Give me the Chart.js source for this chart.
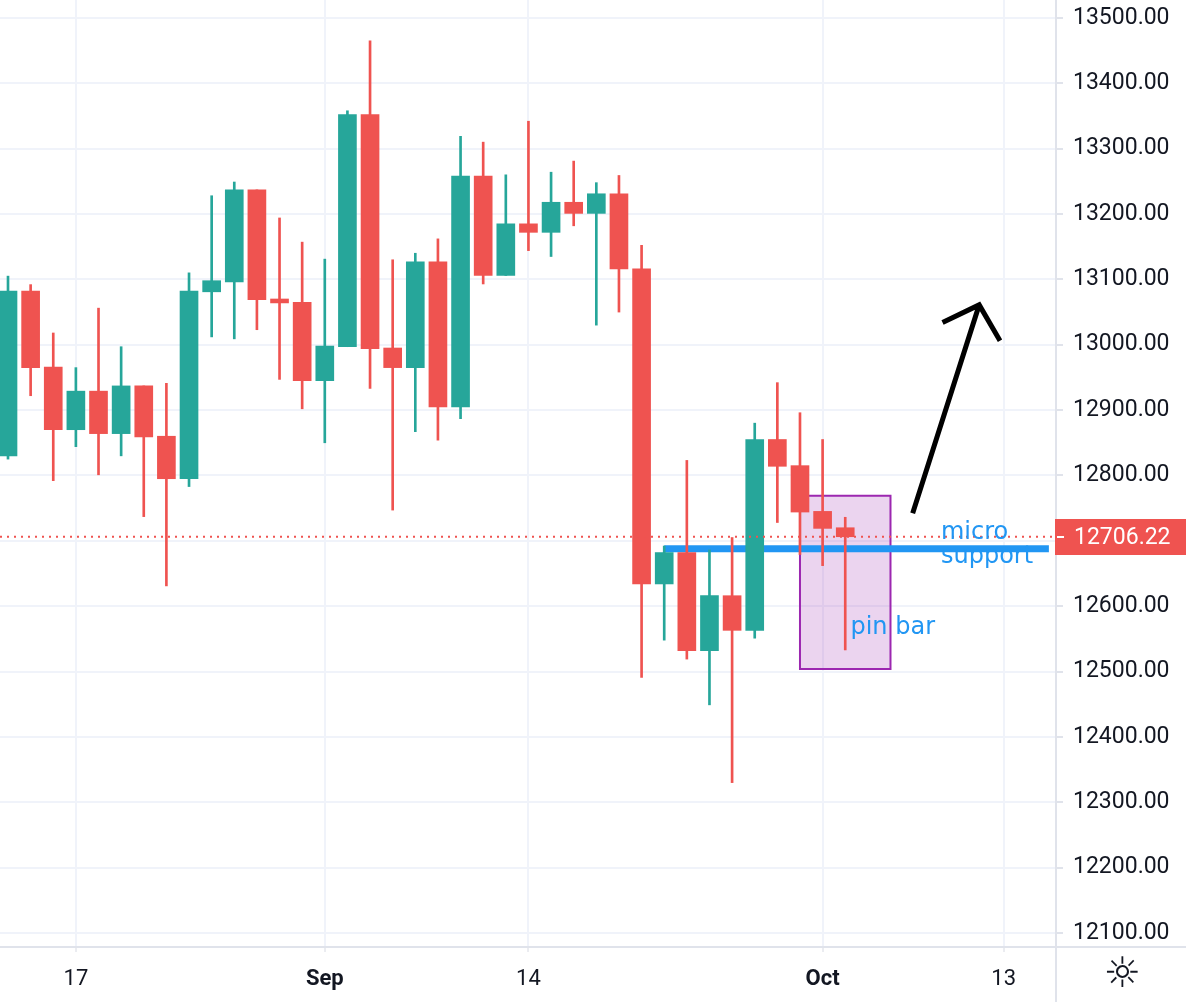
<!DOCTYPE html>
<html>
<head>
<meta charset="utf-8">
<script src="https://cdn.jsdelivr.net/npm/chart.js@4.4.0/dist/chart.umd.min.js"></script>
<style>
  html, body { margin: 0; padding: 0; background: #fff; }
  #wrap { width: 1186px; height: 1002px; position: relative; }
</style>
</head>
<body>
<div id="wrap"><canvas id="grafico"></canvas></div>
<script>
// daily candles (2020), trading days only
const dates = ["Aug 12", "Aug 13", "Aug 14", "Aug 17", "Aug 18", "Aug 19", "Aug 20", "Aug 21", "Aug 24", "Aug 25",
  "Aug 26", "Aug 27", "Aug 28", "Aug 31", "Sep 1", "Sep 2", "Sep 3", "Sep 4", "Sep 7", "Sep 8",
  "Sep 9", "Sep 10", "Sep 11", "Sep 14", "Sep 15", "Sep 16", "Sep 17", "Sep 18", "Sep 21", "Sep 22",
  "Sep 23", "Sep 24", "Sep 25", "Sep 28", "Sep 29", "Sep 30", "Oct 1", "Oct 2"];
const opens = [12830, 13082, 12966, 12870, 12929, 12864, 12937, 12860, 12795, 13081,
  13096, 13237, 13070, 13065, 12945, 12997, 13352, 12995, 12965, 13127,
  12905, 13258, 13106, 13185, 13172, 13218, 13201, 13231, 13116, 12634,
  12682, 12532, 12616, 12563, 12855, 12815, 12745, 12720];
const highs = [13105, 13092, 13018, 12965, 13056, 12997, 12937, 12941, 13110, 13228,
  13249, 13237, 13194, 13157, 13131, 13358, 13465, 13130, 13140, 13162,
  13319, 13310, 13260, 13342, 13264, 13281, 13248, 13259, 13152, 12692,
  12823, 12686, 12705, 12880, 12942, 12896, 12855, 12736];
const lows = [12825, 12922, 12792, 12844, 12801, 12830, 12737, 12631, 12783, 13012,
  13009, 13023, 12947, 12902, 12850, 12997, 12933, 12747, 12867, 12854,
  12887, 13093, 13106, 13144, 13135, 13182, 13030, 13050, 12491, 12548,
  12519, 12449, 12330, 12551, 12728, 12679, 12662, 12533];
const closes = [13082, 12965, 12870, 12929, 12864, 12937, 12859, 12795, 13082, 13098,
  13237, 13069, 13064, 12945, 12998, 13352, 12994, 12965, 13127, 12905,
  13258, 13106, 13185, 13172, 13218, 13201, 13231, 13116, 12634, 12682,
  12532, 12616, 12563, 12855, 12814, 12744, 12719, 12706.22];

const yTicks = [12100, 12200, 12300, 12400, 12500, 12600, 12700, 12800, 12900, 13000, 13100, 13200, 13300, 13400, 13500];
const xTickIdx = [3, 14, 23, 36, 44];
const xTickLabels = ["17", "Sep", "14", "Oct", "13"];

// drawings on the chart (index / price coordinates)
const lastPrice = closes[closes.length - 1];
const supportLevel = 12688;
const supportSpan = [29, 46];
const boxSpan = [35, 39];
const boxPrices = [12504, 12769];
const arrowShaft = [[39.98, 12742], [42.92, 13061]];
const arrowHead = [[41.3, 13034], [42.92, 13061], [43.84, 13006]];
const notes = [
  { text: "micro", x: 41.23, y: 12703 },
  { text: "support", x: 41.23, y: 12666 },
  { text: "pin bar", x: 37.23, y: 12557 }
];

const xMin = -0.3535, xMax = 46.27;
const UP = "#26a69a", DOWN = "#ef5350";
const candleColors = opens.map((o, i) => closes[i] >= o ? UP : DOWN);

const extras = {
  id: "extras",
  afterDraw(chart) {
    const { ctx, chartArea: area, scales } = chart;
    const x = scales.x, y = scales.y;
    ctx.save();
    // frame lines that run through the axis areas
    ctx.strokeStyle = "#e0e3eb";
    ctx.lineWidth = 2;
    ctx.beginPath();
    ctx.moveTo(0, area.bottom + 1);
    ctx.lineTo(chart.width, area.bottom + 1);
    ctx.moveTo(area.right + 1, 0);
    ctx.lineTo(area.right + 1, chart.height);
    ctx.stroke();

    // last price tag
    const py = Math.round(y.getPixelForValue(lastPrice));
    ctx.fillStyle = DOWN;
    ctx.fillRect(area.right, py - 18, chart.width - area.right, 36);
    ctx.strokeStyle = "#fff";
    ctx.beginPath();
    ctx.moveTo(area.right + 2, py);
    ctx.lineTo(area.right + 9, py);
    ctx.stroke();
    ctx.fillStyle = "#fff";
    ctx.font = "23px Roboto";
    ctx.textBaseline = "middle";
    ctx.textAlign = "left";
    ctx.fillText(lastPrice.toFixed(2), area.right + 19, py + 1);

    // text notes
    ctx.fillStyle = "#2196f3";
    ctx.font = "24px 'DejaVu Sans'";
    ctx.textBaseline = "alphabetic";
    notes.forEach(n => ctx.fillText(n.text, x.getPixelForValue(n.x), y.getPixelForValue(n.y)));

    // settings icon
    ctx.fillStyle = "#131722";
    ctx.font = "42px 'DejaVu Sans'";
    ctx.textAlign = "center";
    ctx.textBaseline = "middle";
    ctx.fillText("\u263C", 1122, 976);
    ctx.restore();
  }
};

const ctx = document.getElementById("grafico").getContext("2d");

new Chart(ctx, {
  type: "bar",
  data: {
    datasets: [
      {
        type: "line",
        order: 0,
        data: [
          { x: arrowShaft[0][0], y: arrowShaft[0][1] },
          { x: arrowShaft[1][0], y: arrowShaft[1][1] },
          { x: arrowShaft[1][0], y: null },
          ...arrowHead.map(p => ({ x: p[0], y: p[1] }))
        ],
        borderColor: "#000",
        borderWidth: 5,
        borderJoinStyle: "miter",
        pointRadius: 0,
        spanGaps: false,
        fill: false
      },
      {
        type: "line",
        order: 1,
        data: [{ x: xMin, y: lastPrice }, { x: xMax, y: lastPrice }],
        borderColor: DOWN,
        borderWidth: 2,
        borderDash: [2, 5],
        pointRadius: 0,
        fill: false
      },
      {
        order: 2,
        data: dates.map((d, i) => ({ x: i, y: [opens[i], closes[i]] })),
        backgroundColor: candleColors,
        barThickness: 18,
        grouped: false
      },
      {
        order: 3,
        data: dates.map((d, i) => ({ x: i, y: [lows[i], highs[i]] })),
        backgroundColor: candleColors,
        barThickness: 2,
        grouped: false
      },
      {
        type: "line",
        order: 4,
        data: [{ x: supportSpan[0], y: supportLevel }, { x: supportSpan[1], y: supportLevel }],
        borderColor: "#2196f3",
        borderWidth: 7,
        borderCapStyle: "butt",
        pointRadius: 0,
        fill: false
      },
      {
        type: "line",
        order: 5,
        data: [
          { x: boxSpan[0], y: boxPrices[1] }, { x: boxSpan[1], y: boxPrices[1] },
          { x: boxSpan[1], y: boxPrices[0] }, { x: boxSpan[0], y: boxPrices[0] },
          { x: boxSpan[0], y: boxPrices[1] }
        ],
        borderColor: "#9c27b0",
        borderWidth: 2,
        pointRadius: 0,
        fill: false
      },
      {
        type: "line",
        order: 6,
        data: [{ x: boxSpan[0], y: boxPrices[1] }, { x: boxSpan[1], y: boxPrices[1] }],
        borderWidth: 0,
        borderColor: "rgba(0,0,0,0)",
        backgroundColor: "rgba(156,39,176,0.2)",
        pointRadius: 0,
        fill: { value: boxPrices[0] }
      }
    ]
  },
  options: {
    responsive: true,
    maintainAspectRatio: false,
    animation: false,
    events: [],
    layout: { padding: 0 },
    plugins: {
      legend: { display: false },
      tooltip: { enabled: false }
    },
    scales: {
      x: {
        type: "linear",
        min: xMin,
        max: xMax,
        offset: false,
        afterBuildTicks: s => { s.ticks = xTickIdx.map(v => ({ value: v })); },
        afterFit: s => { s.height = 56; s.paddingLeft = 0; s.paddingRight = 0; },
        grid: { color: "#f0f3fa", lineWidth: 2, offset: false, tickLength: 6, tickColor: "#d6d9e2", tickWidth: 1 },
        border: { display: false },
        ticks: {
          autoSkip: false,
          maxRotation: 0,
          padding: 14,
          color: "#131722",
          font: c => ({ family: "Roboto", size: 22, weight: isNaN(Number(xTickLabels[c.index])) ? "bold" : "normal" }),
          callback: (v, i) => xTickLabels[i]
        }
      },
      y: {
        type: "linear",
        position: "right",
        min: 12080,
        max: 13527.5,
        afterBuildTicks: s => { s.ticks = yTicks.map(v => ({ value: v })); },
        afterFit: s => { s.width = 131; s.paddingTop = 0; s.paddingBottom = 0; },
        grid: { color: "#f0f3fa", lineWidth: 2, tickLength: 8, tickColor: "#e0e3eb", tickWidth: 2 },
        border: { display: false },
        ticks: {
          padding: 10,
          color: "#131722",
          font: { family: "Roboto", size: 23 },
          callback: v => v.toFixed(2)
        }
      }
    }
  },
  plugins: [extras]
});
</script>
</body>
</html>
